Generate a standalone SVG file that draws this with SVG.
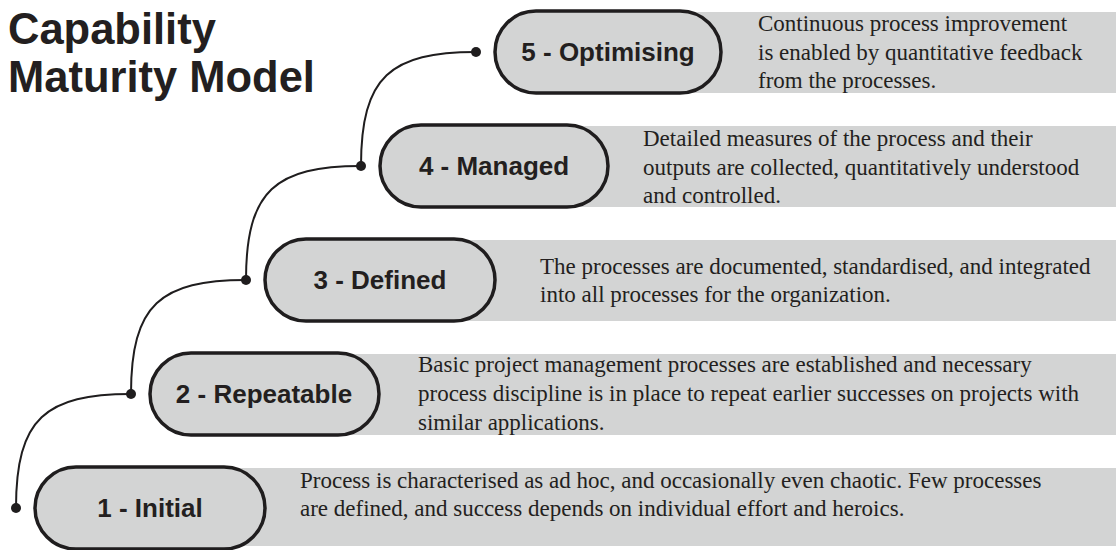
<svg xmlns="http://www.w3.org/2000/svg" width="1116" height="550" viewBox="0 0 1116 550">
<style>
.box{fill:#d3d4d4}
.pill{fill:#d3d4d4;stroke:#1f1d1e;stroke-width:3.5}
.lbl{font-family:"Liberation Sans",Arial,sans-serif;font-weight:bold;font-size:26px;fill:#231f20;text-anchor:middle}
.desc{font-family:"Liberation Serif","Times New Roman",serif;font-size:23px;fill:#231f20}
.title{font-family:"Liberation Sans",Arial,sans-serif;font-weight:bold;font-size:43.5px;fill:#231f20}
.con{fill:none;stroke:#1f1d1e;stroke-width:2}
.dot{fill:#1f1d1e}
</style>
<rect width="1116" height="550" fill="#ffffff"/>
<g id="title">
<text class="title" x="8" y="44">Capability</text>
<text class="title" x="8" y="92">Maturity Model</text>
</g>
<g id="connectors">
<path class="con" d="M16,508 C16,418 46,394 131,394"/>
<path class="con" d="M131,394 C131,304 161,280 246,280"/>
<path class="con" d="M246,280 C246,190 276,166 361,166"/>
<path class="con" d="M361,166 C361,76 391,52 476,52"/>
<circle class="dot" cx="16" cy="508" r="5"/>
<circle class="dot" cx="131" cy="394" r="5"/>
<circle class="dot" cx="246" cy="280" r="5"/>
<circle class="dot" cx="361" cy="166" r="5"/>
<circle class="dot" cx="476" cy="52" r="5"/>
</g>
<g id="level5">
<rect class="box" x="610" y="12" width="506" height="81"/>
<rect class="pill" x="495" y="11" width="226" height="82" rx="41"/>
<text class="lbl" x="608" y="61">5 - Optimising</text>
<text class="desc" x="758" y="31">Continuous process improvement</text>
<text class="desc" x="758" y="60">is enabled by quantitative feedback</text>
<text class="desc" x="758" y="88">from the processes.</text>
</g>
<g id="level4">
<rect class="box" x="495" y="126" width="621" height="81"/>
<rect class="pill" x="380" y="125" width="228" height="82" rx="41"/>
<text class="lbl" x="494" y="175">4 - Managed</text>
<text class="desc" x="643" y="146">Detailed measures of the process and their</text>
<text class="desc" x="643" y="175">outputs are collected, quantitatively understood</text>
<text class="desc" x="643" y="203">and controlled.</text>
</g>
<g id="level3">
<rect class="box" x="380" y="240" width="736" height="81"/>
<rect class="pill" x="265" y="239" width="230" height="82" rx="41"/>
<text class="lbl" x="380" y="289">3 - Defined</text>
<text class="desc" x="540" y="274">The processes are documented, standardised, and integrated</text>
<text class="desc" x="540" y="302">into all processes for the organization.</text>
</g>
<g id="level2">
<rect class="box" x="265" y="354" width="851" height="81"/>
<rect class="pill" x="150" y="353" width="229" height="82" rx="41"/>
<text class="lbl" x="264" y="403">2 - Repeatable</text>
<text class="desc" x="418" y="372">Basic project management processes are established and necessary</text>
<text class="desc" x="418" y="401">process discipline is in place to repeat earlier successes on projects with</text>
<text class="desc" x="418" y="430">similar applications.</text>
</g>
<g id="level1">
<rect class="box" x="150" y="468" width="966" height="78"/>
<rect class="pill" x="35" y="467" width="230" height="82" rx="41"/>
<text class="lbl" x="150" y="517">1 - Initial</text>
<text class="desc" x="300" y="488">Process is characterised as ad hoc, and occasionally even chaotic. Few processes</text>
<text class="desc" x="300" y="516">are defined, and success depends on individual effort and heroics.</text>
</g>
</svg>
